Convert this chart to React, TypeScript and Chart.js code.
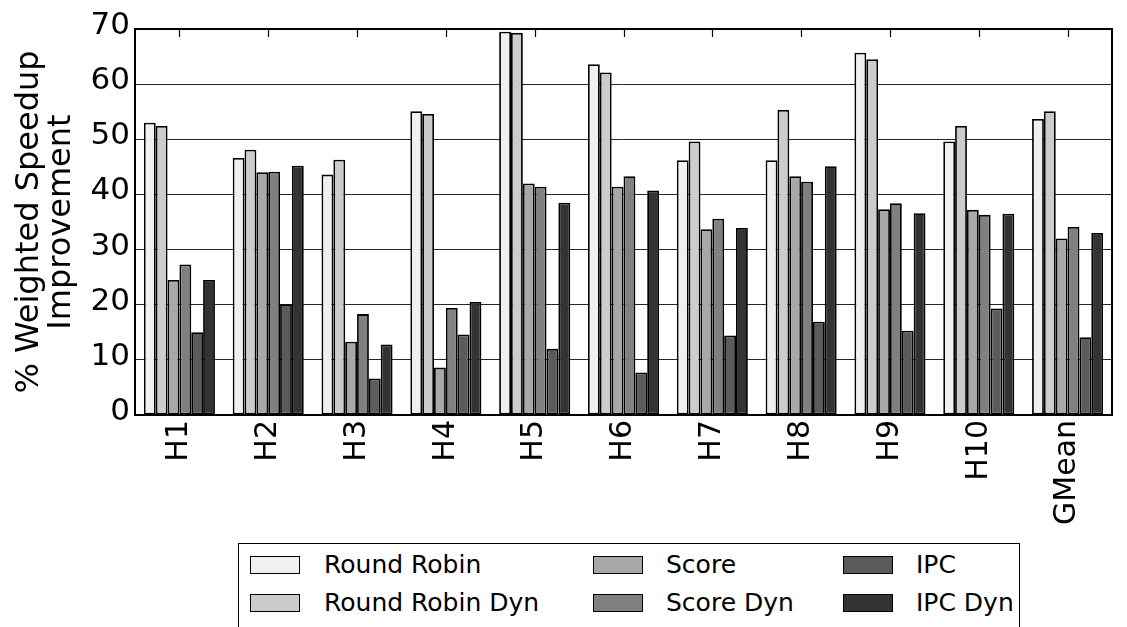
import React, { useEffect, useRef } from "react";
import { Chart, registerables } from "chart.js";

Chart.register(...registerables);

const categories = ["H1", "H2", "H3", "H4", "H5", "H6", "H7", "H8", "H9", "H10", "GMean"];
const roundRobin = [53.0, 46.6, 43.6, 55.1, 69.5, 63.6, 46.2, 46.2, 65.7, 49.6, 53.7];
const roundRobinDyn = [52.4, 48.1, 46.3, 54.6, 69.3, 62.1, 49.6, 55.3, 64.5, 52.4, 55.1];
const score = [24.5, 44.0, 13.3, 8.6, 42.0, 41.4, 33.7, 43.3, 37.3, 37.2, 32.0];
const scoreDyn = [27.3, 44.1, 18.3, 19.4, 41.4, 43.3, 35.6, 42.3, 38.4, 36.3, 34.1];
const ipc = [15.0, 20.1, 6.6, 14.6, 12.0, 7.7, 14.4, 16.9, 15.3, 19.3, 14.1];
const ipcDyn = [24.5, 45.2, 12.8, 20.5, 38.5, 40.7, 33.9, 45.1, 36.6, 36.5, 33.0];

const seriesNames = ["Round Robin", "Round Robin Dyn", "Score", "Score Dyn", "IPC", "IPC Dyn"];
const seriesColors = ["#f0f0f0", "#cccccc", "#a8a8a8", "#808080", "#5b5b5b", "#333333"];
const seriesValues = [roundRobin, roundRobinDyn, score, scoreDyn, ipc, ipcDyn];
const yTitle = ["% Weighted Speedup", "Improvement"];

const FONT = "'DejaVu Sans', sans-serif";

const framePlugin = {
  id: "frameAndTicks",
  afterDatasetsDraw(chart: any) {
    const { ctx, chartArea, scales } = chart;
    const xs = scales.x;
    ctx.save();
    ctx.strokeStyle = "#000";
    ctx.lineWidth = 1.2;
    for (let i = 0; i < categories.length; i++) {
      const x = Math.round(xs.getPixelForTick(i)) + 0.5;
      ctx.beginPath();
      ctx.moveTo(x, chartArea.top);
      ctx.lineTo(x, chartArea.top + 8);
      ctx.stroke();
    }
    ctx.lineWidth = 2;
    ctx.strokeRect(chartArea.left, chartArea.top, chartArea.right - chartArea.left, chartArea.bottom - chartArea.top);
    ctx.restore();
  },
};

export default function App() {
  const canvasRef = useRef<HTMLCanvasElement | null>(null);

  useEffect(() => {
    if (!canvasRef.current) return;
    const chart = new Chart(canvasRef.current, {
      type: "bar",
      data: {
        labels: categories,
        datasets: seriesNames.map((name, i) => ({
          label: name,
          data: seriesValues[i],
          backgroundColor: seriesColors[i],
          borderColor: "#000",
          borderWidth: 1.8,
          borderSkipped: false,
          categoryPercentage: 0.8,
          barPercentage: 1.0,
        })),
      },
      options: {
        responsive: false,
        animation: false,
        devicePixelRatio: 1,
        layout: { padding: { top: 29, right: 15, left: 0, bottom: 0 } },
        plugins: {
          legend: { display: false },
          tooltip: { enabled: false },
        },
        scales: {
          x: {
            type: "category",
            offset: true,
            grid: { display: false, drawTicks: false },
            border: { display: false },
            ticks: {
              color: "#000",
              font: { family: FONT, size: 30 },
              minRotation: 90,
              maxRotation: 90,
              padding: 5,
              autoSkip: false,
            },
            afterFit: (s: any) => {
              s.height = 125;
            },
          },
          y: {
            min: 0,
            max: 70,
            border: { display: false },
            grid: { color: "rgba(0,0,0,0.85)", lineWidth: 1, drawTicks: false },
            ticks: {
              stepSize: 10,
              color: "#000",
              font: { family: FONT, size: 31 },
              padding: 5,
              labelOffset: -3,
            },
            title: {
              display: true,
              text: yTitle,
              color: "#000",
              font: { family: FONT, size: 32, lineHeight: 1.0 },
              padding: { top: 14, bottom: 0 },
            },
            afterFit: (s: any) => {
              s.width = 135;
            },
          },
        },
      },
      plugins: [framePlugin],
    });
    return () => chart.destroy();
  }, []);

  const swLeft = [11, 354, 604];
  const txLeft = [85, 427, 677];
  const rowTop = [12, 50];

  return (
    <div
      style={{
        position: "fixed",
        left: 0,
        top: 0,
        width: 1127,
        height: 627,
        overflow: "hidden",
        background: "#fff",
        fontFamily: FONT,
      }}
    >
      <canvas ref={canvasRef} width={1127} height={540} style={{ position: "absolute", left: 0, top: 0, width: 1127, height: 540 }} />
      <div
        style={{
          position: "absolute",
          left: 238,
          top: 543,
          width: 782,
          height: 110,
          border: "1.5px solid #000",
          boxSizing: "border-box",
        }}
      >
        {seriesNames.map((name, i) => {
          const col = Math.floor(i / 2);
          const row = i % 2;
          return (
            <React.Fragment key={name}>
              <div
                style={{
                  position: "absolute",
                  left: swLeft[col],
                  top: rowTop[row],
                  width: 50,
                  height: 18,
                  background: seriesColors[i],
                  border: "1.5px solid #000",
                  boxSizing: "border-box",
                }}
              />
              <div
                style={{
                  position: "absolute",
                  left: txLeft[col],
                  top: rowTop[row] + 9 - 15,
                  height: 30,
                  lineHeight: "30px",
                  fontSize: 25,
                  color: "#000",
                  whiteSpace: "nowrap",
                }}
              >
                {name}
              </div>
            </React.Fragment>
          );
        })}
      </div>
    </div>
  );
}
